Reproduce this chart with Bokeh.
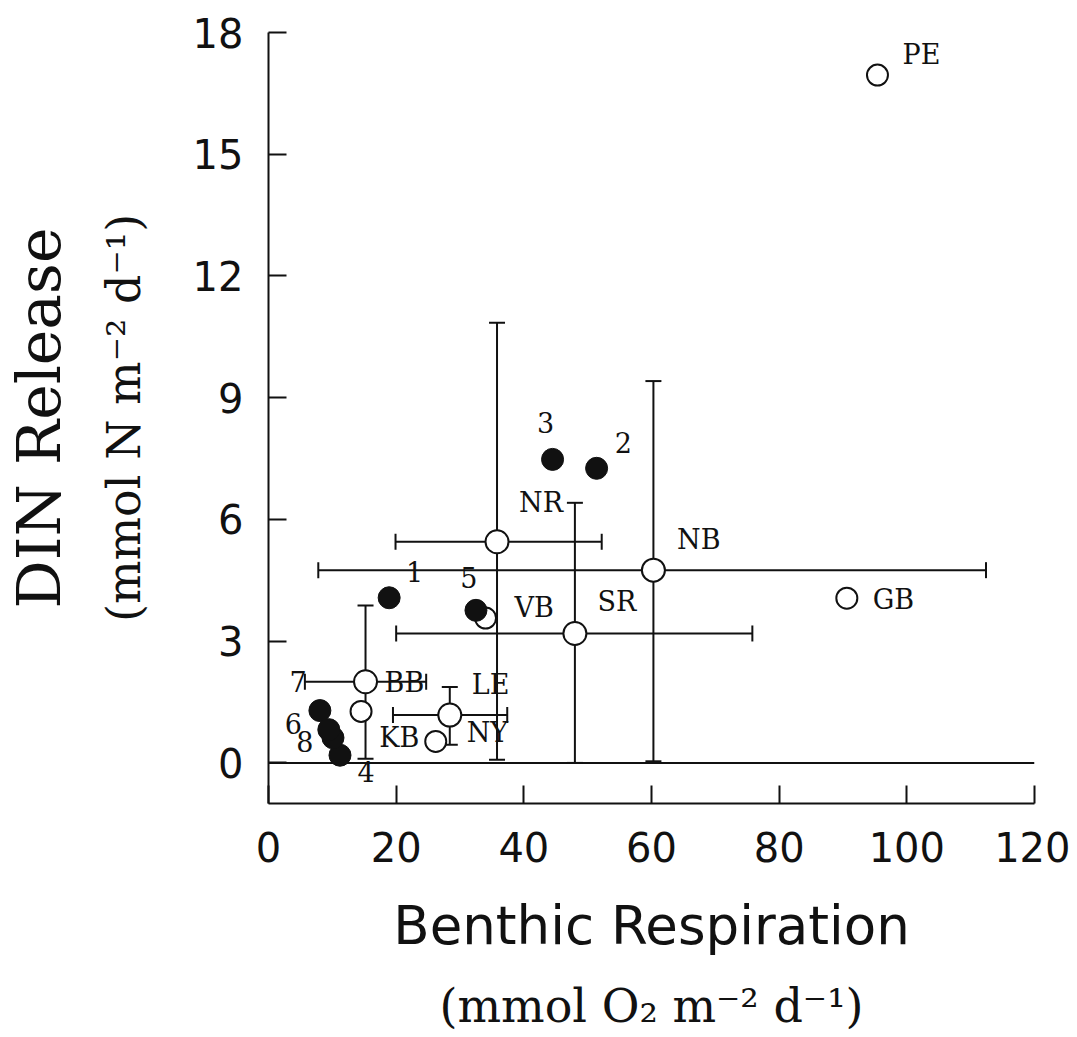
from bokeh.plotting import figure
from bokeh.models import (ColumnDataSource, Whisker, TeeHead, Span,
                          FixedTicker, LinearAxis)
from bokeh.core.properties import value
from bokeh.embed import file_html
from bokeh.resources import INLINE

# ---------------- data ----------------
# open circles with error bars (mean +/- range)
bar_site = ["NR", "SR", "NB", "BB", "LE"]
bar_x = [35.8, 48.0, 60.3, 15.2, 28.4]
bar_y = [5.45, 3.19, 4.75, 2.00, 1.18]
bar_y_lo = [0.08, 0.00, 0.04, 0.10, 0.45]
bar_y_hi = [10.85, 6.41, 9.41, 3.88, 1.87]
bar_x_lo = [19.9, 20.0, 7.8, 5.7, 19.5]
bar_x_hi = [52.2, 75.8, 112.4, 24.7, 37.4]

# open circles without error bars
open_site = ["VB", "KB", "NY", "GB", "PE"]
open_x = [34.0, 14.5, 26.2, 90.6, 95.4]
open_y = [3.57, 1.27, 0.53, 4.06, 16.95]

# filled circles (numbered sites)
num_site = ["1", "2", "3", "4", "5", "6", "7", "8"]
num_x = [18.9, 51.4, 44.5, 11.2, 32.5, 8.05, 10.1, 9.45]
num_y = [4.07, 7.26, 7.48, 0.19, 3.76, 1.29, 0.62, 0.82]

# point annotations
lab_text = ["1", "2", "3", "4", "5", "6", "7", "8",
            "NR", "VB", "SR", "BB", "LE", "KB", "NY", "NB", "GB", "PE"]
lab_x = [22.9, 55.6, 43.4, 15.3, 31.4, 3.9, 4.65, 5.7,
         42.7, 41.6, 54.6, 21.3, 34.8, 20.5, 34.3, 67.4, 97.9, 102.3]
lab_y = [4.72, 7.90, 8.38, -0.21, 4.56, 0.98, 2.00, 0.53,
         6.41, 3.82, 3.98, 1.97, 1.93, 0.62, 0.74, 5.50, 4.02, 17.45]

x_ticks = [0, 20, 40, 60, 80, 100, 120]
y_ticks = [0, 3, 6, 9, 12, 15, 18]

x_title = "Benthic Respiration"
x_units = "(mmol O\u2082 m\u207b\u00b2 d\u207b\u00b9)"
y_title = "DIN Release"
y_units = "(mmol N m\u207b\u00b2 d\u207b\u00b9)"

# ---------------- layout ----------------
W, H = 1070, 1035
ML, MT = 267, 32
MR = W - 1034
MB = H - 803
INK = "#111111"
SERIF = "DejaVu Serif"

p = figure(width=W, height=H, x_range=(0, 120), y_range=(-1, 18),
           output_backend="svg", toolbar_location=None,
           min_border_left=ML, min_border_right=MR,
           min_border_top=MT, min_border_bottom=MB)
p.outline_line_color = None
p.grid.visible = False
p.background_fill_color = "white"
p.border_fill_color = "white"

for ax, ticks in ((p.xaxis[0], x_ticks), (p.yaxis[0], y_ticks)):
    ax.ticker = FixedTicker(ticks=ticks)
    ax.minor_tick_line_color = None
    ax.major_tick_in = 18
    ax.major_tick_out = 0
    ax.axis_line_width = 2
    ax.major_tick_line_width = 2
    ax.axis_line_color = INK
    ax.major_tick_line_color = INK
    ax.major_label_text_font = "DejaVu Sans"
    ax.major_label_text_font_size = "40px"
    ax.major_label_text_color = INK
    ax.axis_label_text_font_style = "normal"
    ax.axis_label_text_color = INK
p.yaxis[0].major_label_standoff = 25
p.xaxis[0].major_label_standoff = 28

p.xaxis[0].axis_label = x_title
p.xaxis[0].axis_label_text_font = "DejaVu Sans"
p.xaxis[0].axis_label_text_font_size = "53px"
p.xaxis[0].axis_label_standoff = 30

p.yaxis[0].axis_label = y_units
p.yaxis[0].axis_label_text_font = SERIF
p.yaxis[0].axis_label_text_font_size = "46px"
p.yaxis[0].axis_label_standoff = 39


def title_axis(text, size, standoff):
    ax = LinearAxis(ticker=FixedTicker(ticks=[]), axis_label=text)
    ax.axis_line_color = None
    ax.major_tick_in = 0
    ax.major_tick_out = 0
    ax.minor_tick_line_color = None
    ax.major_label_standoff = 0
    ax.axis_label_text_font = SERIF
    ax.axis_label_text_font_size = f"{size}px"
    ax.axis_label_text_font_style = "normal"
    ax.axis_label_text_color = INK
    ax.axis_label_standoff = standoff
    return ax


p.add_layout(title_axis(x_units, 46, 20), "below")
p.add_layout(title_axis(y_title, 60, 20), "left")

# zero line
p.add_layout(Span(location=0, dimension="width", line_color=INK,
                  line_width=2, level="underlay"))

# error bars
src = ColumnDataSource(dict(x=bar_x, y=bar_y, ylo=bar_y_lo, yhi=bar_y_hi,
                            xlo=bar_x_lo, xhi=bar_x_hi))


def head():
    return TeeHead(size=16, line_width=2, line_color=INK)


p.add_layout(Whisker(source=src, base="x", lower="ylo", upper="yhi",
                     dimension="height", line_width=2, line_color=INK,
                     lower_head=head(), upper_head=head(), level="underlay"))
p.add_layout(Whisker(source=src, base="y", lower="xlo", upper="xhi",
                     dimension="width", line_width=2, line_color=INK,
                     lower_head=head(), upper_head=head(), level="underlay"))

p.scatter(x="x", y="y", source=src, size=23, marker="circle",
          fill_color="white", line_color=INK, line_width=2)
p.scatter(open_x, open_y, size=21, marker="circle",
          fill_color="white", line_color=INK, line_width=2)
p.scatter(num_x, num_y, size=22, marker="circle",
          fill_color=INK, line_color=INK, line_width=1)

p.text(x=lab_x, y=lab_y, text=lab_text, text_font=value("DejaVu Serif"),
       text_font_size="27px", text_align="center", text_baseline="middle",
       text_color=INK)

open("out.html", "w").write(file_html(p, INLINE))
